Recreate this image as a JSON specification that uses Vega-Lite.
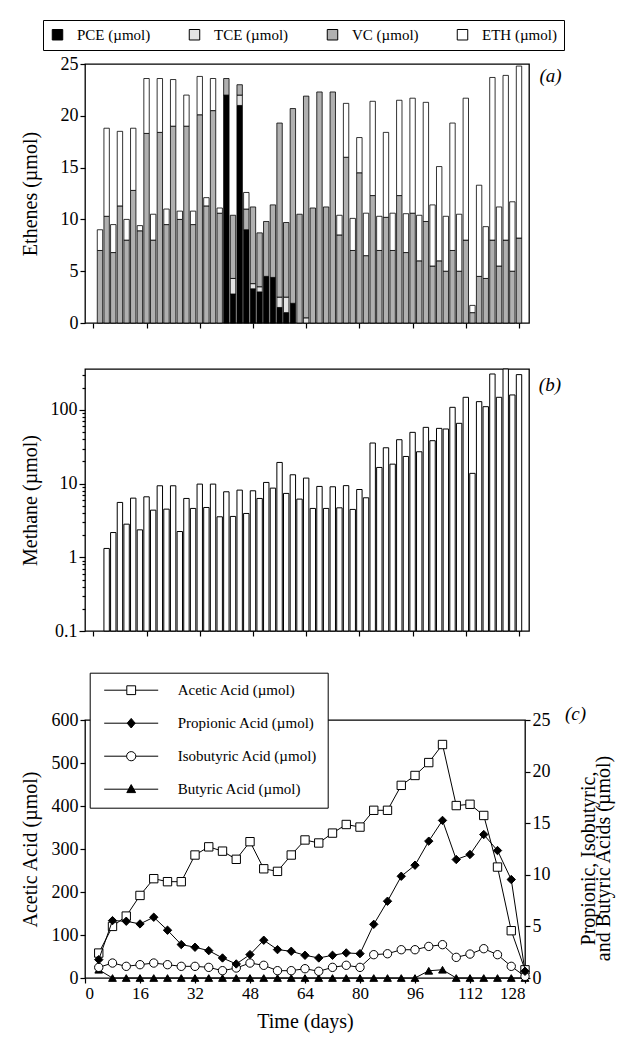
{
  "$schema": "https://vega.github.io/schema/vega-lite/v6.json",
  "padding": {"left": 19, "top": 18, "right": 2, "bottom": 5},
  "spacing": 30,
  "resolve": {"legend": {"color": "independent", "shape": "independent", "fill": "independent", "stroke": "independent"}},
  "config": {
    "font": "Liberation Serif",
    "view": {"stroke": "black", "strokeWidth": 1.3},
    "axis": {"grid": false, "domain": false, "tickColor": "black", "tickWidth": 1.2, "tickSize": 5, "labelColor": "black", "titleColor": "black", "labelFont": "Liberation Serif", "titleFont": "Liberation Serif", "labelFontSize": 18, "titleFontSize": 20, "titleFontWeight": "normal", "labelPadding": 2},
    "legend": {"labelFont": "Liberation Serif", "labelColor": "black", "titleFont": "Liberation Serif"}
  },
  "datasets": {
    "speciesOrder": [{"species": "PCE", "rank": 1}, {"species": "TCE", "rank": 2}, {"species": "VC", "rank": 3}, {"species": "ETH", "rank": 4}],
    "ethenes": [
      {"day": 2, "PCE": 0, "TCE": 0, "VC": 7.0, "ETH": 2.0},
      {"day": 4, "PCE": 0, "TCE": 0, "VC": 10.3, "ETH": 8.5},
      {"day": 6, "PCE": 0, "TCE": 0, "VC": 6.8, "ETH": 2.7},
      {"day": 8, "PCE": 0, "TCE": 0, "VC": 11.3, "ETH": 7.2},
      {"day": 10, "PCE": 0, "TCE": 0, "VC": 8.0, "ETH": 2.0},
      {"day": 12, "PCE": 0, "TCE": 0, "VC": 12.8, "ETH": 6.0},
      {"day": 14, "PCE": 0, "TCE": 0, "VC": 8.9, "ETH": 0.5},
      {"day": 16, "PCE": 0, "TCE": 0, "VC": 18.3, "ETH": 5.3},
      {"day": 18, "PCE": 0, "TCE": 0, "VC": 8.0, "ETH": 2.5},
      {"day": 20, "PCE": 0, "TCE": 0, "VC": 18.4, "ETH": 5.2},
      {"day": 22, "PCE": 0, "TCE": 0, "VC": 9.5, "ETH": 1.5},
      {"day": 24, "PCE": 0, "TCE": 0, "VC": 19.0, "ETH": 4.5},
      {"day": 26, "PCE": 0, "TCE": 0, "VC": 10.0, "ETH": 0.8},
      {"day": 28, "PCE": 0, "TCE": 0, "VC": 19.0, "ETH": 3.0},
      {"day": 30, "PCE": 0, "TCE": 0, "VC": 9.5, "ETH": 1.3},
      {"day": 32, "PCE": 0, "TCE": 0, "VC": 20.1, "ETH": 3.7},
      {"day": 34, "PCE": 0, "TCE": 0, "VC": 11.3, "ETH": 0.8},
      {"day": 36, "PCE": 0, "TCE": 0, "VC": 20.5, "ETH": 3.1},
      {"day": 38, "PCE": 0, "TCE": 0, "VC": 10.6, "ETH": 0.5},
      {"day": 40, "PCE": 22.0, "TCE": 0, "VC": 1.6, "ETH": 0},
      {"day": 42, "PCE": 2.8, "TCE": 1.5, "VC": 6.1, "ETH": 0},
      {"day": 44, "PCE": 21.0, "TCE": 1.0, "VC": 1.0, "ETH": 0},
      {"day": 46, "PCE": 9.0, "TCE": 0, "VC": 2.0, "ETH": 1.6},
      {"day": 48, "PCE": 3.3, "TCE": 0.5, "VC": 7.4, "ETH": 0},
      {"day": 50, "PCE": 3.0, "TCE": 0.5, "VC": 5.2, "ETH": 0},
      {"day": 52, "PCE": 4.5, "TCE": 0, "VC": 5.3, "ETH": 0},
      {"day": 54, "PCE": 4.4, "TCE": 0, "VC": 7.0, "ETH": 0},
      {"day": 56, "PCE": 1.5, "TCE": 1.0, "VC": 16.8, "ETH": 0},
      {"day": 58, "PCE": 1.0, "TCE": 1.5, "VC": 7.2, "ETH": 0},
      {"day": 60, "PCE": 1.9, "TCE": 0, "VC": 18.8, "ETH": 0},
      {"day": 62, "PCE": 0, "TCE": 0, "VC": 10.5, "ETH": 0},
      {"day": 64, "PCE": 0, "TCE": 0.5, "VC": 21.4, "ETH": 0},
      {"day": 66, "PCE": 0, "TCE": 0, "VC": 11.1, "ETH": 0},
      {"day": 68, "PCE": 0, "TCE": 0, "VC": 22.3, "ETH": 0},
      {"day": 70, "PCE": 0, "TCE": 0, "VC": 11.2, "ETH": 0},
      {"day": 72, "PCE": 0, "TCE": 0, "VC": 22.3, "ETH": 0},
      {"day": 74, "PCE": 0, "TCE": 0, "VC": 8.5, "ETH": 1.9},
      {"day": 76, "PCE": 0, "TCE": 0, "VC": 16.0, "ETH": 5.2},
      {"day": 78, "PCE": 0, "TCE": 0, "VC": 7.0, "ETH": 3.1},
      {"day": 80, "PCE": 0, "TCE": 0, "VC": 14.5, "ETH": 3.4},
      {"day": 82, "PCE": 0, "TCE": 0, "VC": 6.5, "ETH": 4.1},
      {"day": 84, "PCE": 0, "TCE": 0, "VC": 12.3, "ETH": 9.1},
      {"day": 86, "PCE": 0, "TCE": 0, "VC": 7.0, "ETH": 3.3},
      {"day": 88, "PCE": 0, "TCE": 0, "VC": 10.2, "ETH": 8.2},
      {"day": 90, "PCE": 0, "TCE": 0, "VC": 7.0, "ETH": 3.6},
      {"day": 92, "PCE": 0, "TCE": 0, "VC": 12.3, "ETH": 9.2},
      {"day": 94, "PCE": 0, "TCE": 0, "VC": 6.8, "ETH": 3.75},
      {"day": 96, "PCE": 0, "TCE": 0, "VC": 10.6, "ETH": 11.1},
      {"day": 98, "PCE": 0, "TCE": 0, "VC": 6.0, "ETH": 4.4},
      {"day": 100, "PCE": 0, "TCE": 0, "VC": 9.8, "ETH": 11.5},
      {"day": 102, "PCE": 0, "TCE": 0, "VC": 5.5, "ETH": 5.9},
      {"day": 104, "PCE": 0, "TCE": 0, "VC": 6.0, "ETH": 9.1},
      {"day": 106, "PCE": 0, "TCE": 0, "VC": 5.0, "ETH": 5.3},
      {"day": 108, "PCE": 0, "TCE": 0, "VC": 7.0, "ETH": 12.3},
      {"day": 110, "PCE": 0, "TCE": 0, "VC": 5.0, "ETH": 5.5},
      {"day": 112, "PCE": 0, "TCE": 0, "VC": 8.0, "ETH": 13.7},
      {"day": 114, "PCE": 0, "TCE": 0, "VC": 1.0, "ETH": 0.7},
      {"day": 116, "PCE": 0, "TCE": 0, "VC": 4.5, "ETH": 8.8},
      {"day": 118, "PCE": 0, "TCE": 0, "VC": 4.3, "ETH": 5.0},
      {"day": 120, "PCE": 0, "TCE": 0, "VC": 8.0, "ETH": 15.7},
      {"day": 122, "PCE": 0, "TCE": 0, "VC": 5.5, "ETH": 5.7},
      {"day": 124, "PCE": 0, "TCE": 0, "VC": 8.0, "ETH": 15.9},
      {"day": 126, "PCE": 0, "TCE": 0, "VC": 5.0, "ETH": 6.7},
      {"day": 128, "PCE": 0, "TCE": 0, "VC": 8.2, "ETH": 16.6}
    ],
    "methane": [
      {"day": 4, "umol": 1.32}, {"day": 6, "umol": 2.17}, {"day": 8, "umol": 5.56}, {"day": 10, "umol": 2.82},
      {"day": 12, "umol": 6.36}, {"day": 14, "umol": 2.36}, {"day": 16, "umol": 6.63}, {"day": 18, "umol": 4.37},
      {"day": 20, "umol": 9.36}, {"day": 22, "umol": 4.51}, {"day": 24, "umol": 9.36}, {"day": 26, "umol": 2.24},
      {"day": 28, "umol": 6.30}, {"day": 30, "umol": 4.61}, {"day": 32, "umol": 9.86}, {"day": 34, "umol": 4.75},
      {"day": 36, "umol": 9.86}, {"day": 38, "umol": 3.55}, {"day": 40, "umol": 7.76}, {"day": 42, "umol": 3.59},
      {"day": 44, "umol": 8.17}, {"day": 46, "umol": 3.94}, {"day": 48, "umol": 8.0}, {"day": 50, "umol": 6.30},
      {"day": 52, "umol": 10.39}, {"day": 54, "umol": 8.70}, {"day": 56, "umol": 19.4}, {"day": 58, "umol": 7.37},
      {"day": 60, "umol": 13.2}, {"day": 62, "umol": 6.17}, {"day": 64, "umol": 11.9}, {"day": 66, "umol": 4.61},
      {"day": 68, "umol": 9.17}, {"day": 70, "umol": 4.61}, {"day": 72, "umol": 9.07}, {"day": 74, "umol": 4.70},
      {"day": 76, "umol": 9.4}, {"day": 78, "umol": 4.47}, {"day": 80, "umol": 8.33}, {"day": 82, "umol": 6.43},
      {"day": 84, "umol": 35.6}, {"day": 86, "umol": 16.6}, {"day": 88, "umol": 30.7}, {"day": 90, "umol": 18.4},
      {"day": 92, "umol": 39.5}, {"day": 94, "umol": 23.4}, {"day": 96, "umol": 49.7}, {"day": 98, "umol": 27.1},
      {"day": 100, "umol": 58.1}, {"day": 102, "umol": 38.3}, {"day": 104, "umol": 56.3}, {"day": 106, "umol": 55.2},
      {"day": 108, "umol": 108.7}, {"day": 110, "umol": 65.9}, {"day": 112, "umol": 148.6}, {"day": 114, "umol": 13.8},
      {"day": 116, "umol": 129.8}, {"day": 118, "umol": 110.9}, {"day": 120, "umol": 308}, {"day": 122, "umol": 148.6},
      {"day": 124, "umol": 360}, {"day": 126, "umol": 160}, {"day": 128, "umol": 302}
    ],
    "acids": [
      {"day": 4, "Acetic": 58, "Propionic": 1.78, "Isobutyric": 1.03, "Butyric": 0.8},
      {"day": 8, "Acetic": 120, "Propionic": 5.56, "Isobutyric": 1.45, "Butyric": 0},
      {"day": 12, "Acetic": 144, "Propionic": 5.5, "Isobutyric": 1.13, "Butyric": 0},
      {"day": 16, "Acetic": 192, "Propionic": 5.24, "Isobutyric": 1.29, "Butyric": 0},
      {"day": 20, "Acetic": 231, "Propionic": 5.89, "Isobutyric": 1.45, "Butyric": 0},
      {"day": 24, "Acetic": 224, "Propionic": 4.63, "Isobutyric": 1.29, "Butyric": 0},
      {"day": 28, "Acetic": 224, "Propionic": 3.24, "Isobutyric": 1.13, "Butyric": 0},
      {"day": 32, "Acetic": 286, "Propionic": 2.98, "Isobutyric": 1.13, "Butyric": 0},
      {"day": 36, "Acetic": 305, "Propionic": 2.65, "Isobutyric": 1.03, "Butyric": 0},
      {"day": 40, "Acetic": 295, "Propionic": 1.94, "Isobutyric": 0.71, "Butyric": 0},
      {"day": 44, "Acetic": 276, "Propionic": 1.36, "Isobutyric": 0.97, "Butyric": 0},
      {"day": 48, "Acetic": 317, "Propionic": 2.27, "Isobutyric": 1.45, "Butyric": 0},
      {"day": 52, "Acetic": 254, "Propionic": 3.66, "Isobutyric": 1.23, "Butyric": 0},
      {"day": 56, "Acetic": 248, "Propionic": 2.75, "Isobutyric": 0.71, "Butyric": 0},
      {"day": 60, "Acetic": 286, "Propionic": 2.59, "Isobutyric": 0.71, "Butyric": 0},
      {"day": 64, "Acetic": 321, "Propionic": 2.2, "Isobutyric": 0.9, "Butyric": 0},
      {"day": 68, "Acetic": 314, "Propionic": 1.94, "Isobutyric": 0.65, "Butyric": 0},
      {"day": 72, "Acetic": 337, "Propionic": 2.2, "Isobutyric": 1.03, "Butyric": 0},
      {"day": 76, "Acetic": 357, "Propionic": 2.43, "Isobutyric": 1.23, "Butyric": 0},
      {"day": 80, "Acetic": 351, "Propionic": 2.36, "Isobutyric": 1.03, "Butyric": 0},
      {"day": 84, "Acetic": 390, "Propionic": 5.2, "Isobutyric": 2.26, "Butyric": 0},
      {"day": 88, "Acetic": 390, "Propionic": 7.44, "Isobutyric": 2.35, "Butyric": 0},
      {"day": 92, "Acetic": 448, "Propionic": 9.86, "Isobutyric": 2.74, "Butyric": 0},
      {"day": 96, "Acetic": 471, "Propionic": 10.93, "Isobutyric": 2.74, "Butyric": 0},
      {"day": 100, "Acetic": 501, "Propionic": 13.26, "Isobutyric": 3.06, "Butyric": 0.7},
      {"day": 104, "Acetic": 543, "Propionic": 15.27, "Isobutyric": 3.23, "Butyric": 0.8},
      {"day": 108, "Acetic": 401, "Propionic": 11.48, "Isobutyric": 2.0, "Butyric": 0},
      {"day": 112, "Acetic": 404, "Propionic": 11.97, "Isobutyric": 2.32, "Butyric": 0},
      {"day": 116, "Acetic": 378, "Propionic": 13.9, "Isobutyric": 2.84, "Butyric": 0},
      {"day": 120, "Acetic": 258, "Propionic": 12.35, "Isobutyric": 2.26, "Butyric": 0},
      {"day": 124, "Acetic": 110, "Propionic": 9.54, "Isobutyric": 1.13, "Butyric": 0},
      {"day": 128, "Acetic": 19, "Propionic": 0.65, "Isobutyric": 0.16, "Butyric": 0}
    ]
  },
  "vconcat": [
    {
      "width": 444,
      "height": 259,
      "layer": [
        {
          "data": {"name": "ethenes"},
          "transform": [
            {"fold": ["PCE", "TCE", "VC", "ETH"], "as": ["species", "umol"]},
            {"filter": "datum.umol > 0"},
            {"lookup": "species", "from": {"data": {"name": "speciesOrder"}, "key": "species", "fields": ["rank"]}}
          ],
          "mark": {"type": "bar", "width": 5.4, "stroke": "black", "strokeWidth": 0.8},
          "encoding": {
            "x": {"field": "day", "type": "quantitative", "scale": {"domain": [-1, 129.5], "nice": false, "zero": false},
                  "axis": {"values": [0, 8, 16, 24, 32, 40, 48, 56, 64, 72, 80, 88, 96, 104, 112, 120, 128], "title": null, "labelExpr": "' '", "labelFontSize": 8, "labelPadding": 0}},
            "y": {"field": "umol", "type": "quantitative", "stack": "zero", "scale": {"domain": [0, 25], "nice": false},
                  "axis": {"values": [0, 5, 10, 15, 20, 25], "title": "Ethenes (µmol)", "titleX": -55, "titleY": 129.5, "titleBaseline": "middle", "titleAngle": 270}},
            "color": {"field": "species", "type": "nominal",
                      "scale": {"domain": ["PCE", "TCE", "VC", "ETH"], "range": ["#000000", "#e4e4e4", "#b0b0b0", "#ffffff"]},
                      "legend": {"orient": "none", "legendX": -42, "legendY": -44, "direction": "horizontal", "title": null, "strokeColor": "black", "fillColor": "white", "padding": 7, "symbolType": "square", "symbolSize": 110, "symbolStrokeColor": "black", "symbolStrokeWidth": 1, "labelFontSize": 15, "labelOffset": 12, "columnPadding": 36, "labelExpr": "datum.label + ' (µmol)'"}},
            "order": {"field": "rank", "type": "quantitative"}
          }
        },
        {
          "data": {"values": [{}]},
          "mark": {"type": "text", "fontStyle": "italic", "fontSize": 19, "font": "Liberation Serif"},
          "encoding": {"x": {"datum": 137.5}, "y": {"datum": 23.8}, "text": {"value": "(a)"}}
        }
      ]
    },
    {
      "width": 444,
      "height": 262,
      "layer": [
        {
          "data": {"name": "methane"},
          "mark": {"type": "bar", "width": 5.4, "fill": "white", "stroke": "black", "strokeWidth": 1},
          "encoding": {
            "x": {"field": "day", "type": "quantitative", "scale": {"domain": [-1, 129.5], "nice": false, "zero": false},
                  "axis": {"values": [0, 8, 16, 24, 32, 40, 48, 56, 64, 72, 80, 88, 96, 104, 112, 120, 128], "title": null, "labels": false}},
            "y": {"field": "umol", "type": "quantitative", "stack": null, "scale": {"type": "log", "domain": [0.1, 360], "nice": false},
                  "axis": {"values": [0.1, 0.2, 0.3, 0.4, 0.5, 0.6, 0.7, 0.8, 0.9, 1, 2, 3, 4, 5, 6, 7, 8, 9, 10, 20, 30, 40, 50, 60, 70, 80, 90, 100, 200, 300],
                           "labelExpr": "datum.value == 0.1 ? '0.1' : datum.value == 1 ? '1' : datum.value == 10 ? '10' : datum.value == 100 ? '100' : ''",
                           "tickSize": {"condition": {"test": "datum.value == 0.1 || datum.value == 1 || datum.value == 10 || datum.value == 100", "value": 6}, "value": 3},
                           "title": "Methane (µmol)", "titleX": -55, "titleY": 131, "titleBaseline": "middle", "titleAngle": 270}},
            "y2": {"datum": 0.1}
          }
        },
        {
          "data": {"values": [{}]},
          "mark": {"type": "text", "fontStyle": "italic", "fontSize": 19, "font": "Liberation Serif"},
          "encoding": {"x": {"datum": 137.3}, "y": {"datum": 220}, "text": {"value": "(b)"}}
        }
      ]
    },
    {
      "width": 440,
      "height": 258,
      "layer": [
        {
          "layer": [
            {
              "data": {"name": "acids"},
              "transform": [{"fold": ["Acetic", "Propionic", "Isobutyric", "Butyric"], "as": ["acid", "umol"]}, {"filter": "datum.acid === 'Acetic'"}],
              "mark": {"type": "line", "color": "black", "strokeWidth": 1},
              "encoding": {
                "x": {"field": "day", "type": "quantitative", "scale": {"domain": [0, 128], "nice": false},
                      "axis": {"values": [0, 8, 16, 24, 32, 40, 48, 56, 64, 72, 80, 88, 96, 104, 112, 120, 128], "title": "Time (days)", "labelFontSize": 17, "titleFontSize": 20, "titlePadding": 10}},
                "y": {"field": "umol", "type": "quantitative", "scale": {"domain": [0, 600], "nice": false},
                      "axis": {"orient": "left", "values": [0, 100, 200, 300, 400, 500, 600], "title": "Acetic Acid (µmol)", "titleX": -55, "titleY": 129, "titleBaseline": "middle", "titleAngle": 270}}
              }
            },
            {
              "data": {"name": "acids"},
              "transform": [{"fold": ["Acetic", "Propionic", "Isobutyric", "Butyric"], "as": ["acid", "umol"]}],
              "mark": {"type": "point", "filled": true, "opacity": 0, "size": 64, "strokeWidth": 1},
              "encoding": {
                "x": {"field": "day", "type": "quantitative"},
                "y": {"field": "umol", "type": "quantitative"},
                "shape": {"field": "acid", "type": "nominal",
                          "scale": {"domain": ["Acetic", "Propionic", "Isobutyric", "Butyric"],
                                    "range": ["M-6.75,0H-1.1M1.1,0H6.75M-1.1,-1.1H1.1V1.1H-1.1Z", "M-6.75,0H6.75M0,-1.2L1.0,0L0,1.2L-1.0,0Z", "M-6.75,0H-1.15M1.15,0H6.75M-1.15,0A1.15,1.15,0,1,1,1.15,0A1.15,1.15,0,1,1,-1.15,0Z", "M-6.75,0H6.75M0,-1.15L1.1,0.85L-1.1,0.85Z"]},
                          "legend": {"orient": "none", "legendX": 4.7, "legendY": -47.3, "title": null, "strokeColor": "black", "fillColor": "white", "padding": 10, "symbolOffset": 24, "labelOffset": 39, "rowPadding": 17, "labelFontSize": 15, "symbolSize": 64, "symbolStrokeWidth": 1, "symbolOpacity": 1, "labelExpr": "datum.label + ' Acid (µmol)'"}},
                "fill": {"field": "acid", "type": "nominal", "scale": {"domain": ["Acetic", "Propionic", "Isobutyric", "Butyric"], "range": ["white", "black", "white", "black"]}},
                "stroke": {"field": "acid", "type": "nominal", "scale": {"domain": ["Acetic", "Propionic", "Isobutyric", "Butyric"], "range": ["black", "black", "black", "black"]}}
              }
            },
            {
              "data": {"name": "acids"},
              "transform": [{"fold": ["Acetic", "Propionic", "Isobutyric", "Butyric"], "as": ["acid", "umol"]}, {"filter": "datum.acid === 'Acetic'"}],
              "mark": {"type": "point", "shape": "square", "filled": true, "fill": "white", "stroke": "black", "strokeWidth": 1, "size": 70, "opacity": 1},
              "encoding": {
                "x": {"field": "day", "type": "quantitative"},
                "y": {"field": "umol", "type": "quantitative"}
              }
            },
            {
              "data": {"values": [{}]},
              "mark": {"type": "text", "fontStyle": "italic", "fontSize": 19, "font": "Liberation Serif"},
              "encoding": {"x": {"datum": 142.7}, "y": {"datum": 614}, "text": {"value": "(c)"}}
            }
          ]
        },
        {
          "layer": [
            {
              "data": {"name": "acids"},
              "transform": [{"fold": ["Acetic", "Propionic", "Isobutyric", "Butyric"], "as": ["acid", "umol"]}, {"filter": "datum.acid !== 'Acetic'"}],
              "mark": {"type": "line", "color": "black", "strokeWidth": 1},
              "encoding": {
                "x": {"field": "day", "type": "quantitative"},
                "y": {"field": "umol", "type": "quantitative", "scale": {"domain": [0, 25], "nice": false},
                      "axis": {"orient": "right", "values": [0, 5, 10, 15, 20, 25], "title": ["Propionic, Isobutyric,", "and Butyric Acids (µmol)"], "titleAngle": 270, "titleX": 63, "titleY": 138, "titleBaseline": "middle", "titleLineHeight": 15}},
                "detail": {"field": "acid", "type": "nominal"}
              }
            },
            {
              "data": {"name": "acids"},
              "transform": [{"fold": ["Acetic", "Propionic", "Isobutyric", "Butyric"], "as": ["acid", "umol"]}, {"filter": "datum.acid === 'Butyric'"}],
              "mark": {"type": "point", "shape": "triangle-up", "filled": true, "fill": "black", "stroke": "black", "strokeWidth": 1, "size": 60, "opacity": 1},
              "encoding": {"x": {"field": "day", "type": "quantitative"}, "y": {"field": "umol", "type": "quantitative"}}
            },
            {
              "data": {"name": "acids"},
              "transform": [{"fold": ["Acetic", "Propionic", "Isobutyric", "Butyric"], "as": ["acid", "umol"]}, {"filter": "datum.acid === 'Isobutyric'"}],
              "mark": {"type": "point", "shape": "circle", "filled": true, "fill": "white", "stroke": "black", "strokeWidth": 1, "size": 70, "opacity": 1},
              "encoding": {"x": {"field": "day", "type": "quantitative"}, "y": {"field": "umol", "type": "quantitative"}}
            },
            {
              "data": {"name": "acids"},
              "transform": [{"fold": ["Acetic", "Propionic", "Isobutyric", "Butyric"], "as": ["acid", "umol"]}, {"filter": "datum.acid === 'Propionic'"}],
              "mark": {"type": "point", "shape": "diamond", "filled": true, "fill": "black", "stroke": "black", "strokeWidth": 1, "size": 70, "opacity": 1},
              "encoding": {"x": {"field": "day", "type": "quantitative"}, "y": {"field": "umol", "type": "quantitative"}}
            }
          ]
        }
      ],
      "resolve": {"scale": {"y": "independent"}}
    }
  ]
}
